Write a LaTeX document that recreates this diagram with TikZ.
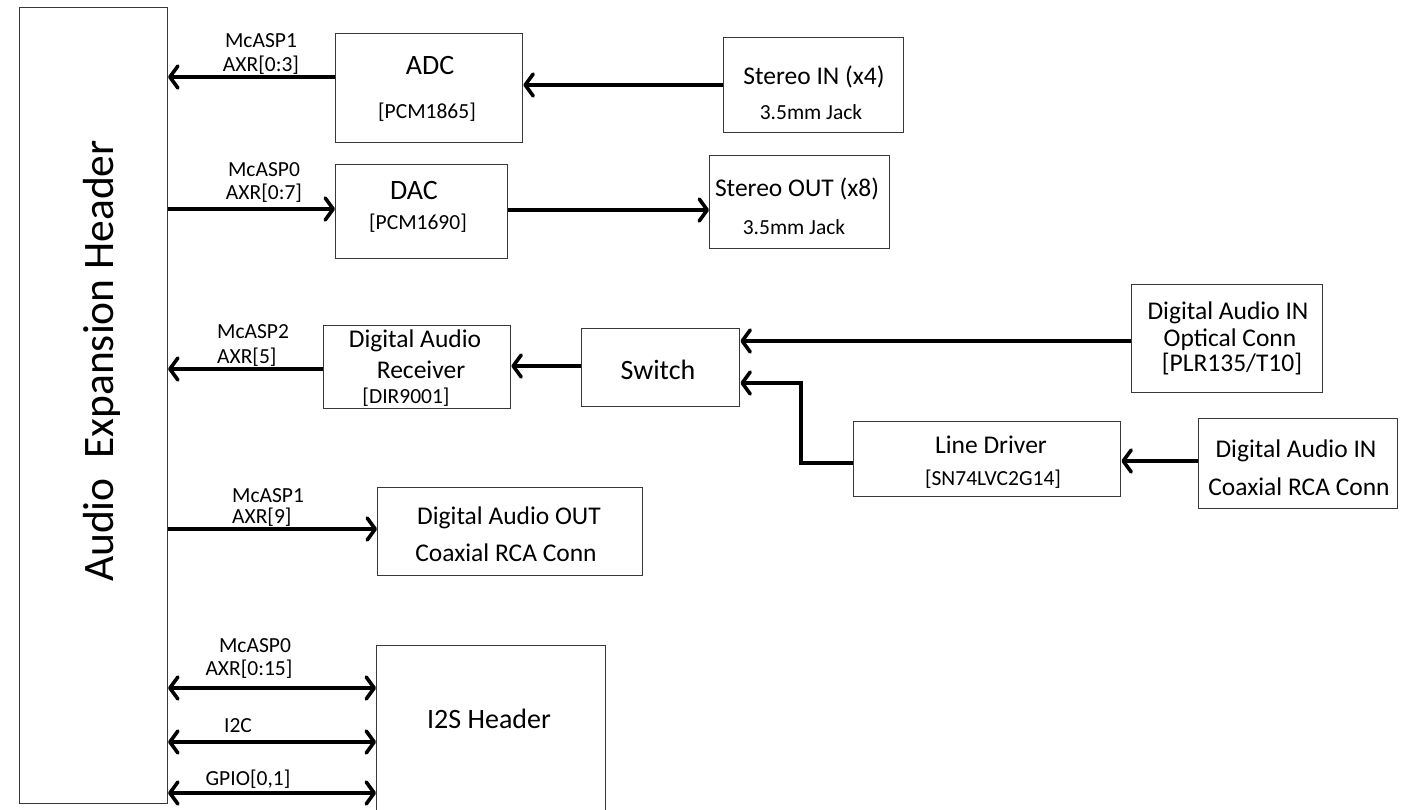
\documentclass[tikz,border=0pt]{standalone}
\usepackage{fontspec}
\setmainfont{Carlito}
\usetikzlibrary{arrows.meta}

% text sizes used in the block diagram
\newcommand\sizehdr{\fontsize{43.5}{48}\selectfont}
\newcommand\sizebig{\fontsize{28}{32}\selectfont}
\newcommand\sizemid{\fontsize{25.5}{29}\selectfont}
\newcommand\sizesml{\fontsize{21.5}{24}\selectfont}

\begin{document}
\begin{tikzpicture}[x=1pt,y=-1pt,
  box/.style={draw=black!78, line width=1.4pt, inner sep=0pt, anchor=north west},
  txt/.style={inner sep=0pt, anchor=base},
  lbl/.style={txt, font=\sizesml},
  barb/.tip={Straight Barb[length=8pt,width=22pt,line width=3.6pt,round]},
  conn/.style={line width=3.8pt, -barb},
  bidir/.style={line width=3.8pt, barb-barb},
  wire/.style={line width=3.8pt}
]
\useasboundingbox (0,0) rectangle (1401,810);

% ---------- blocks ----------
\node[box, line width=1.1pt, minimum width=148pt, minimum height=796pt] (hdr) at (19,7) {};
\node[box, minimum width=187pt, minimum height=109pt] (adc)  at (335,33)  {};
\node[box, minimum width=180pt, minimum height=95pt]  (sin)  at (723,37)  {};
\node[box, minimum width=172pt, minimum height=94pt]  (dac)  at (335,164) {};
\node[box, minimum width=180pt, minimum height=93pt]  (sout) at (709,155) {};
\node[box, minimum width=187pt, minimum height=83pt]  (dar)  at (323,325) {};
\node[box, minimum width=158pt, minimum height=78pt]  (sw)   at (581,328) {};
\node[box, minimum width=191pt, minimum height=108pt] (opt)  at (1131,284) {};
\node[box, minimum width=267pt, minimum height=75pt]  (ld)   at (853,421) {};
\node[box, minimum width=199pt, minimum height=90pt]  (coax) at (1198,418) {};
\node[box, minimum width=265pt, minimum height=88pt]  (dao)  at (377,487) {};
\node[box, minimum width=229pt, minimum height=170pt] (i2s)  at (376,645) {};

% ---------- block texts ----------
\node[txt, font=\sizehdr, rotate=90] (hdrT) at (113,361) {Audio~~Expansion Header};

\node[txt, font=\sizebig] (adcT1) at (430,75)  {ADC};
\node[lbl]                (adcT2) at (427,119) {[PCM1865]};
\node[txt, font=\sizemid] (sinT1) at (814,85)  {Stereo IN (x4)};
\node[lbl]                (sinT2) at (811,120) {3.5mm Jack};

\node[txt, font=\sizebig] (dacT1) at (414,200) {DAC};
\node[lbl]                (dacT2) at (418,230) {[PCM1690]};
\node[txt, font=\sizemid] (soutT1) at (797,197) {Stereo OUT (x8)};
\node[lbl]                (soutT2) at (794,235) {3.5mm Jack};

\node[txt, font=\sizemid] (darT1) at (415,348) {Digital Audio};
\node[txt, font=\sizemid] (darT2) at (421,378) {Receiver};
\node[lbl]                (darT3) at (406,403) {[DIR9001]};

\node[txt, font=\sizebig] (swT) at (658,380) {Switch};

\node[txt, font=\sizemid] (optT1) at (1228,320) {Digital Audio IN};
\node[txt, font=\sizemid] (optT2) at (1230,347) {Optical Conn};
\node[txt, font=\sizemid] (optT3) at (1232,372) {[PLR135/T10]};

\node[txt, font=\sizemid] (ldT1) at (991,453) {Line Driver};
\node[lbl]                (ldT2) at (993,485) {[SN74LVC2G14]};

\node[txt, font=\sizemid] (coaxT1) at (1296,457) {Digital Audio IN};
\node[txt, font=\sizemid] (coaxT2) at (1299,495) {Coaxial RCA Conn};

\node[txt, font=\sizemid] (daoT1) at (509,524) {Digital Audio OUT};
\node[txt, font=\sizemid] (daoT2) at (506,561) {Coaxial RCA Conn};

\node[txt, font=\sizebig] (i2sT) at (489,728) {I2S Header};

% ---------- signal labels ----------
\node[lbl] (l1a) at (261,48)  {McASP1};
\node[lbl] (l1b) at (261,72)  {AXR[0:3]};
\node[lbl] (l2a) at (264,177) {McASP0};
\node[lbl] (l2b) at (264,200) {AXR[0:7]};
\node[lbl, anchor=base west] (l3a) at (217,339) {McASP2};
\node[lbl, anchor=base west] (l3b) at (217,363) {AXR[5]};
\node[lbl, anchor=base west] (l4a) at (232,502) {McASP1};
\node[lbl, anchor=base west] (l4b) at (232,523) {AXR[9]};
\node[lbl] (l5a) at (255,652) {McASP0};
\node[lbl] (l5b) at (249,675) {AXR[0:15]};
\node[lbl] (l6)  at (238,732) {I2C};
\node[lbl] (l7)  at (248,785) {GPIO[0,1]};

% ---------- connections ----------
\draw[conn] (adc.west |- 0,77)  -- (hdr.east |- 0,77);
\draw[conn] (sin.west |- 0,85)  -- (adc.east |- 0,85);
\draw[conn] (hdr.east |- 0,209) -- (dac.west |- 0,209);
\draw[conn] (dac.east |- 0,210) -- (sout.west |- 0,210);
\draw[conn] (dar.west |- 0,369) -- (hdr.east |- 0,369);
\draw[conn] (sw.west |- 0,366)  -- (dar.east |- 0,366);
\draw[conn] (opt.west |- 0,341) -- (sw.east |- 0,341);
\coordinate (bend) at (801,463);
\draw[conn] (ld.west |- bend) -- (bend) |- (sw.east |- 0,383);
\draw[conn] (coax.west |- 0,461) -- (ld.east |- 0,461);
\draw[conn] (hdr.east |- 0,529) -- (dao.west |- 0,529);
\draw[bidir] (hdr.east |- 0,688) -- (i2s.west |- 0,688);
\draw[bidir] (hdr.east |- 0,742) -- (i2s.west |- 0,742);
\draw[bidir] (hdr.east |- 0,793) -- (i2s.west |- 0,793);
\end{tikzpicture}
\end{document}
